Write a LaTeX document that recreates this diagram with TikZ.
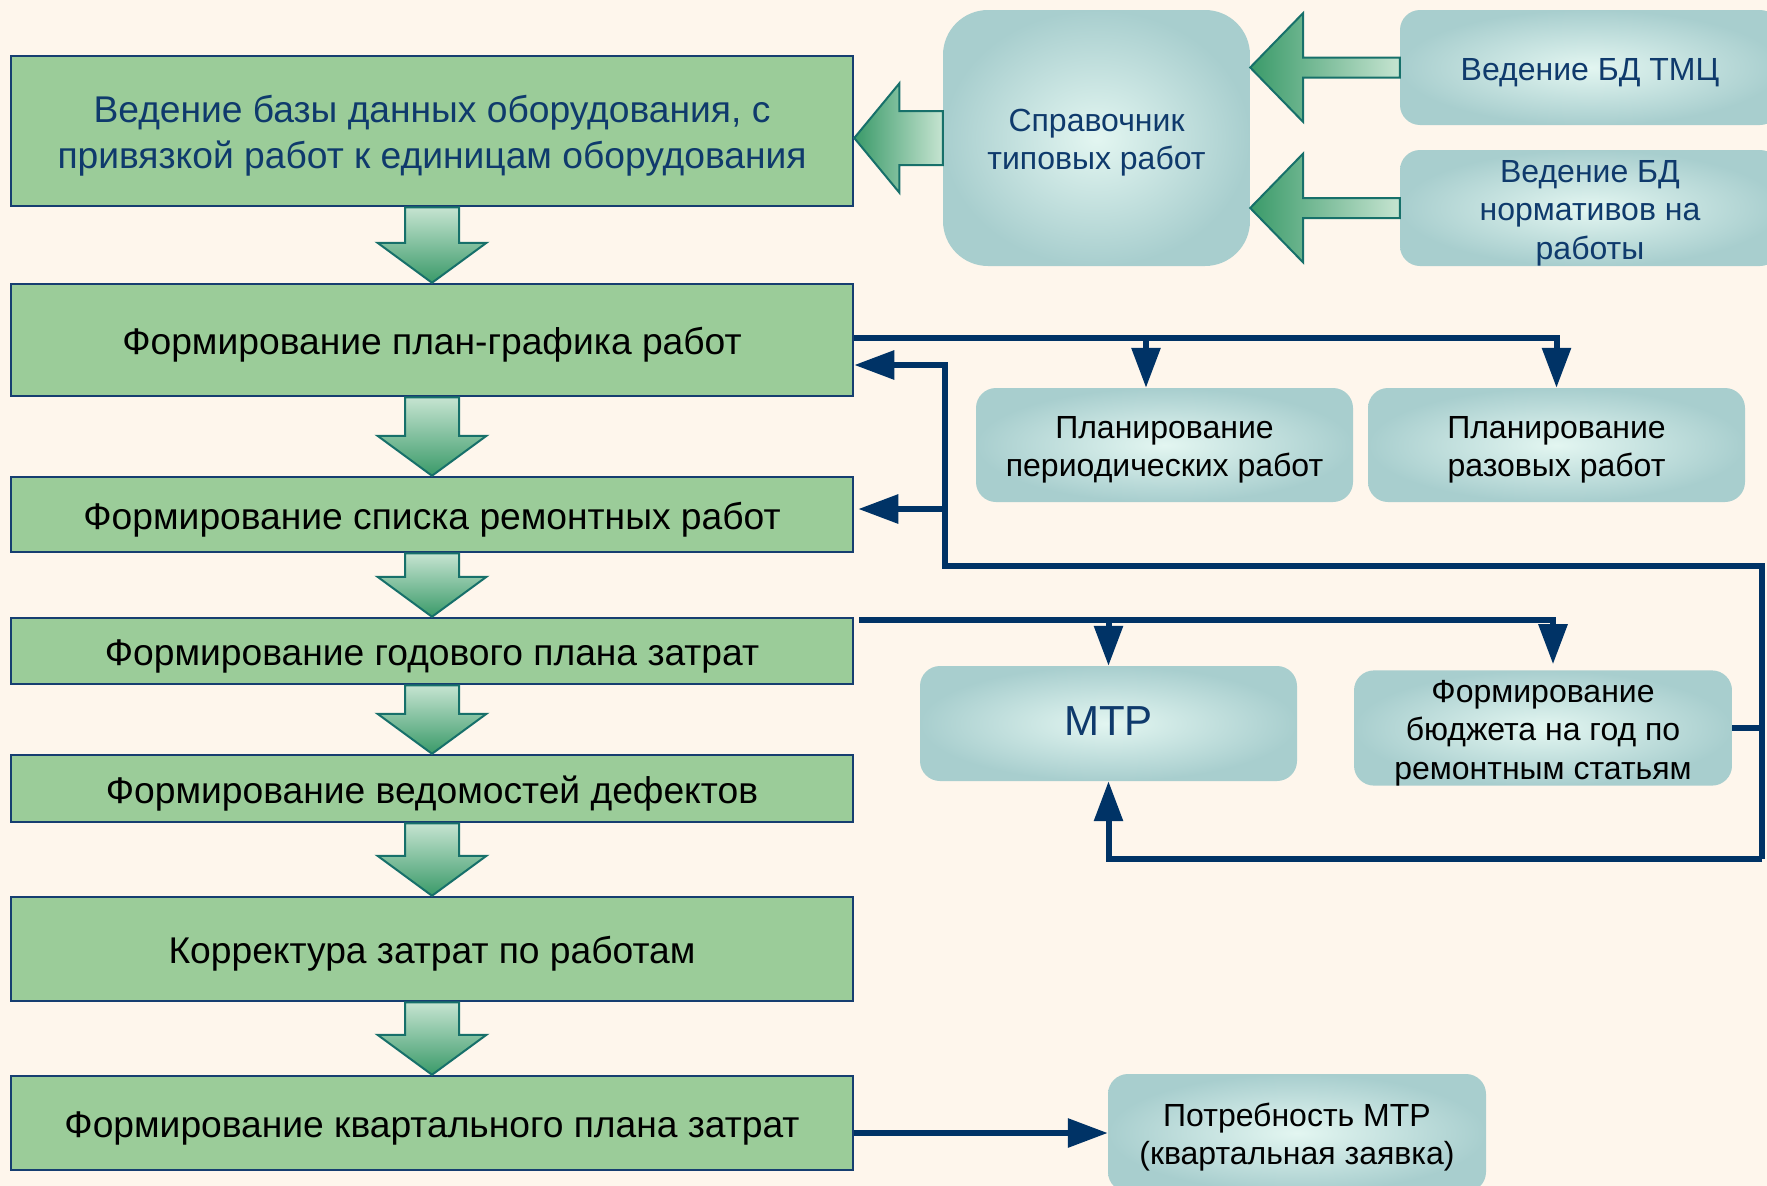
\documentclass[tikz,border=0pt]{standalone}
\usepackage{fontspec}
\setmainfont{Liberation Sans}
\usetikzlibrary{arrows.meta,calc}

\definecolor{bgcream}{HTML}{FEF6EC}
\definecolor{boxgreen}{HTML}{9BCC99}
\definecolor{boxline}{HTML}{163E70}
\definecolor{navy}{HTML}{003366}
\definecolor{txtblue}{HTML}{0F3A6C}
\definecolor{tealout}{HTML}{A8CECE}
\definecolor{tealin}{HTML}{E3F6F1}
\definecolor{gdark}{HTML}{3A9A69}
\definecolor{glight}{HTML}{C6E4D1}
\definecolor{gedge}{HTML}{17706A}

\tikzset{
  % fixed text height/depth keep the lines at the same place in every box
  stage/.style={draw=boxline, line width=2.5pt, fill=boxgreen, minimum width=842pt,
    align=center, inner sep=0pt, font=\fontsize{37.2}{46}\selectfont,
    text height=37.2pt, text depth=8.16pt},
  stage2/.style={stage, text height=83.2pt},
  info/.style={inner color=tealin, outer color=tealout, rounded corners=20pt,
    align=center, inner sep=0pt, font=\fontsize{32}{38.3}\selectfont,
    text height=32pt, text depth=6.6pt},
  info2/.style={info, text height=70.3pt},
  info3/.style={info, text height=108.6pt},
  link/.style={draw=navy, line width=6pt},
  tolink/.style={link, -{Triangle[length=40pt,width=28pt]}},
  bigarrow/.style={draw=gedge, line width=2pt, line join=miter},
}

% wide block arrow pointing down from one stage to the next
\newcommand\stepdown[2]{%
  \shade[bigarrow, top color=glight, bottom color=gdark]
    let \p1=(#1.south), \p2=(#2.north) in
    (\x1-27pt,\y1) -- (\x1-27pt,\y2+40pt) -- (\x1-54.5pt,\y2+40pt) -- (\x1,\y2)
    -- (\x1+54.5pt,\y2+40pt) -- (\x1+27pt,\y2+40pt) -- (\x1+27pt,\y1) -- cycle;}

% block arrow pointing left: #1 source, #2 target, #3 half shaft, #4 head length
\newcommand\stepleft[4]{%
  \shade[bigarrow, left color=gdark, right color=glight]
    let \p1=(#1.west), \p2=(#2.east) in
    (\x1,\y1+#3) -- (\x2+#4,\y1+#3) -- (\x2+#4,\y1+54.5pt) -- (\x2,\y1)
    -- (\x2+#4,\y1-54.5pt) -- (\x2+#4,\y1-#3) -- (\x1,\y1-#3) -- cycle;}

\begin{document}
\begin{tikzpicture}[x=1pt,y=-1pt]
\useasboundingbox (0,0) rectangle (1767,1186);
\clip (0,0) rectangle (1767,1186);
\fill[bgcream] (0,0) rectangle (1767,1186);

% process stages
\node[stage2, minimum height=150pt, text=txtblue] (b1) at (432,131)
  {Ведение базы данных оборудования, с\\привязкой работ к единицам оборудования};
\node[stage, minimum height=112pt] (b2) at (432,340) {Формирование план-графика работ};
\node[stage, minimum height=75pt]  (b3) at (432,514.5) {Формирование списка ремонтных работ};
\node[stage, minimum height=66pt]  (b4) at (432,651) {Формирование годового плана затрат};
\node[stage, minimum height=67pt]  (b5) at (432,788.5) {Формирование ведомостей дефектов};
\node[stage, minimum height=104pt] (b6) at (432,949) {Корректура затрат по работам};
\node[stage, minimum height=94pt]  (b7) at (432,1123) {Формирование квартального плана затрат};

% reference data
\node[info2, rounded corners=45pt, minimum width=307pt, minimum height=256pt, text=txtblue]
  (sp) at (1096.5,138) {Справочник\\типовых работ};
\node[info, minimum width=380pt, minimum height=115pt, text=txtblue]
  (tmc) at (1590,67.5) {Ведение БД ТМЦ};
\node[info3, minimum width=380pt, minimum height=116pt, text=txtblue]
  (norm) at (1590,208) {Ведение БД\\нормативов на\\работы};

% planning and budgeting
\node[info2, minimum width=377pt, minimum height=114pt] (per) at (1164.5,445)
  {Планирование\\периодических работ};
\node[info2, minimum width=377pt, minimum height=114pt] (raz) at (1556.5,445)
  {Планирование\\разовых работ};
\node[info, minimum width=377pt, minimum height=115pt, text=txtblue,
  font=\fontsize{42}{50}\selectfont, text height=42pt, text depth=17.6pt]
  (mtr) at (1108.5,723.5) {МТР};
\node[info3, minimum width=378pt, minimum height=114pt] (bud) at (1543,728)
  {Формирование\\бюджета на год по\\ремонтным статьям};
\node[info2, minimum width=378pt, minimum height=118pt] (potr) at (1297,1133)
  {Потребность МТР\\(квартальная заявка)};

% block arrows
\stepdown{b1}{b2}
\stepdown{b2}{b3}
\stepdown{b3}{b4}
\stepdown{b4}{b5}
\stepdown{b5}{b6}
\stepdown{b6}{b7}
\stepleft{sp}{b1}{27pt}{45pt}
\stepleft{tmc}{sp}{10pt}{53pt}
\stepleft{norm}{sp}{10pt}{53pt}

% schedule to planning
\coordinate (s1) at ($(b2.east)+(0,-2)$);
\coordinate (t1) at (1146,338);
\draw[tolink] (s1) -| (raz.north);
\draw[tolink] (t1) -- (t1 |- per.north);

% annual plan to MTR and budget
\coordinate (s2) at ($(b4.north east)+(5,3)$);
\coordinate (t2) at ($(bud.north)+(10,-6)$);
\draw[tolink] (s2) -| (t2);
\draw[tolink] (s2 -| mtr.north) -- (mtr.north);

% feedback from budget
\coordinate (fR) at (1762,566);
\coordinate (fL) at (945,566);
\coordinate (fB) at (1762,859);
\draw[link] (bud.east) -- (bud.east -| fR);
\draw[tolink] (fB) -- (fR) -- (fL) |- ($(b2.east)+(0,25)$);
\draw[tolink] (fL |- 0,509) -- ($(b3.east)+(4,-5.5)$);
\draw[tolink] (fB) -| (mtr.south);

% quarterly plan to demand
\draw[tolink] ($(b7.east)+(0,10)$) -- (potr.west);
\end{tikzpicture}
\end{document}
